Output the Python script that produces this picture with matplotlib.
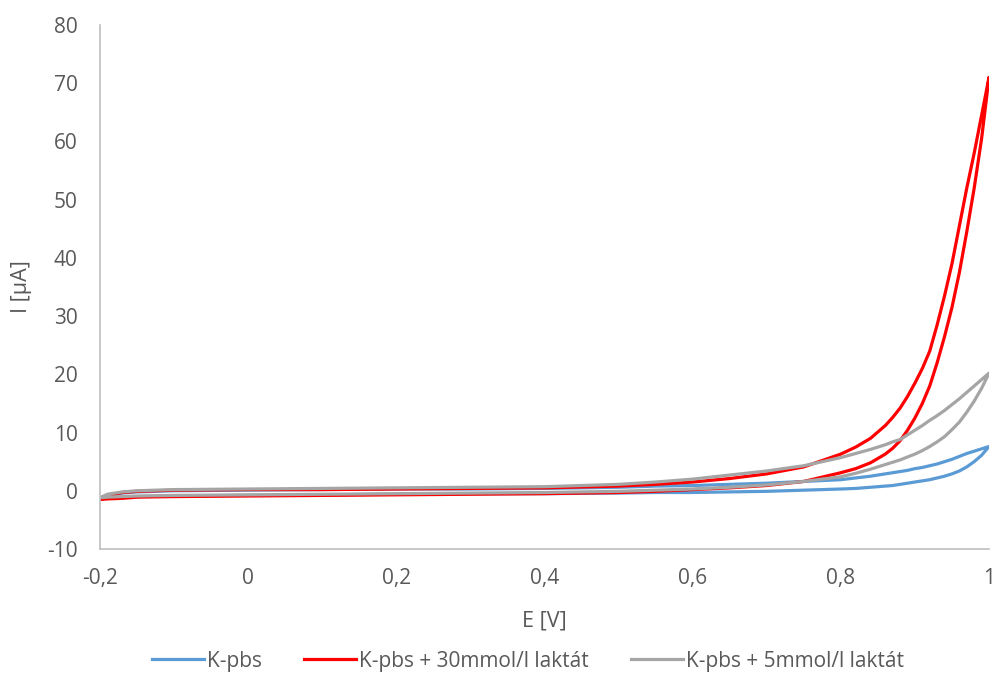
import matplotlib
matplotlib.use("Agg")
from matplotlib import pyplot as plt

# potential grid [V] shared by all branches
E = [-0.2, -0.19, -0.17, -0.15, -0.1, 0.0, 0.1, 0.2, 0.3, 0.4, 0.5, 0.55, 0.6,
     0.65, 0.7, 0.75, 0.8, 0.82, 0.84, 0.86, 0.87, 0.88, 0.89, 0.9, 0.91, 0.92,
     0.93, 0.94, 0.95, 0.96, 0.97, 0.98, 0.99, 1.0]

# K-pbs
blue_low = [-1.3, -1.2, -1.1, -1.0, -0.9, -0.8, -0.7, -0.6, -0.5, -0.5, -0.4, -0.3, -0.3,
            -0.2, -0.1, 0.1, 0.3, 0.4, 0.6, 0.8, 0.9, 1.1, 1.3, 1.5, 1.7, 1.9,
            2.2, 2.5, 2.9, 3.4, 4.1, 5.0, 6.1, 7.6]
blue_up = [-1.2, -0.8, -0.4, -0.2, 0.0, 0.1, 0.2, 0.3, 0.3, 0.4, 0.6, 0.8, 0.9,
           1.1, 1.3, 1.6, 1.9, 2.2, 2.5, 2.9, 3.1, 3.3, 3.5, 3.8, 4.0, 4.3,
           4.6, 5.0, 5.4, 5.9, 6.4, 6.8, 7.2, 7.6]

# K-pbs + 30mmol/l laktat
red_low = [-1.5, -1.4, -1.3, -1.1, -1.0, -0.9, -0.8, -0.7, -0.6, -0.5, -0.3, -0.1, 0.2,
           0.5, 0.9, 1.6, 3.1, 3.8, 4.8, 6.3, 7.3, 8.6, 10.4, 12.5, 15.0, 18.0,
           22.0, 26.5, 31.5, 37.5, 44.5, 52.0, 60.5, 71.0]
red_up = [-1.3, -0.8, -0.3, -0.1, 0.1, 0.2, 0.2, 0.3, 0.4, 0.5, 0.8, 1.1, 1.5,
          2.1, 2.9, 4.1, 6.3, 7.5, 9.0, 11.2, 12.6, 14.2, 16.2, 18.5, 21.0, 24.0,
          28.5, 33.5, 39.0, 45.5, 52.0, 58.0, 64.5, 71.0]

# K-pbs + 5mmol/l laktat
gray_low = [-1.2, -1.1, -1.0, -0.9, -0.8, -0.7, -0.6, -0.5, -0.4, -0.3, -0.1, 0.1, 0.3,
            0.6, 1.0, 1.6, 2.4, 3.0, 3.7, 4.5, 4.9, 5.3, 5.8, 6.3, 6.9, 7.6,
            8.4, 9.3, 10.5, 11.8, 13.5, 15.4, 17.6, 20.2]
gray_up = [-1.2, -0.6, -0.2, 0.0, 0.2, 0.3, 0.4, 0.5, 0.6, 0.7, 1.1, 1.5, 2.0,
           2.7, 3.4, 4.3, 5.7, 6.4, 7.1, 7.9, 8.4, 8.8, 9.6, 10.4, 11.2, 12.1,
           12.9, 13.8, 14.8, 15.8, 16.9, 18.0, 19.1, 20.2]

labels = ['K-pbs', 'K-pbs + 30mmol/l laktát', 'K-pbs + 5mmol/l laktát']
colors = ['#5B9BD5', '#FF0000', '#A5A5A5']
xticks = [-0.2, 0, 0.2, 0.4, 0.6, 0.8, 1]
xticklabels = ['-0,2', '0', '0,2', '0,4', '0,6', '0,8', '1']
yticks = list(range(-10, 81, 10))

plt.rcParams['font.family'] = ['Open Sans', 'DejaVu Sans']
plt.rcParams['axes.unicode_minus'] = False
txt = '#595959'

fig = plt.figure(figsize=(9.98, 6.75), dpi=100)
ax = fig.add_axes([0.1002, 0.1867, 0.8908, 0.7763])

series = [(blue_low, blue_up), (red_low, red_up), (gray_low, gray_up)]
for (low, up), lab, col in zip(series, labels, colors):
    xs = E + E[::-1]
    ys = low + up[::-1]
    ax.plot(xs, ys, color=col, lw=2.3, label=lab, solid_joinstyle='round')

ax.set_xlim(-0.2, 1)
ax.set_ylim(-10, 80)
ax.set_xticks(xticks)
ax.set_xticklabels(xticklabels)
ax.set_yticks(yticks)
ax.tick_params(length=0, labelsize=15, colors=txt)
ax.tick_params(axis='x', pad=14)
ax.tick_params(axis='y', pad=16)
for s in ['top', 'right']:
    ax.spines[s].set_visible(False)
for s in ['left', 'bottom']:
    ax.spines[s].set_color('#BFBFBF')
    ax.spines[s].set_linewidth(1.2)

fig.text(0.022, 0.575, 'I [µA]', rotation=90, ha='center', va='center', fontsize=15.5, color=txt)
fig.text(0.545, 0.08, 'E [V]', ha='center', va='center', fontsize=15.5, color=txt)

fig.legend(loc='center', bbox_to_anchor=(0.529, 0.0207), ncol=3, frameon=False,
           fontsize=15, handlelength=2.5, columnspacing=2.0, handletextpad=0.15,
           labelcolor=txt)

fig.savefig('out.png', dpi=100)
